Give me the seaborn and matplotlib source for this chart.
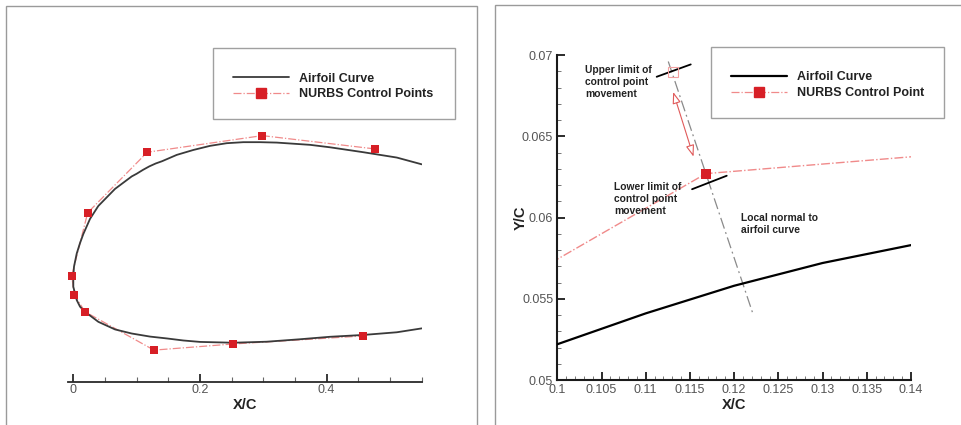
import numpy as np
import pandas as pd
import matplotlib
matplotlib.use('Agg')
import matplotlib.pyplot as plt
import seaborn as sns
from matplotlib.lines import Line2D
from matplotlib.patches import Rectangle, FancyArrowPatch
from matplotlib.ticker import MultipleLocator, FuncFormatter

# ---------------- data ----------------
# airfoil curve: upper surface from x=0.55 to leading edge, then lower surface
airfoil_x = [0.5501, 0.5107, 0.4579, 0.4053, 0.3738, 0.3212, 0.2948, 0.2684,
             0.2422, 0.2158, 0.1895, 0.1633, 0.14, 0.13, 0.12, 0.11, 0.10,
             0.0922, 0.0658, 0.0395, 0.0264, 0.0158, 0.0106, 0.0054, 0.0011, 0.0,
             0.0, 0.0054, 0.0106, 0.0185, 0.0395, 0.0658, 0.0922, 0.1211,
             0.1475, 0.1737, 0.2001, 0.2526, 0.3054, 0.3580, 0.4053, 0.4579,
             0.5107, 0.5501]
airfoil_y = [0.0568, 0.0601, 0.0627, 0.0651, 0.0663, 0.0674, 0.0676, 0.0676,
             0.0671, 0.0658, 0.0638, 0.0614, 0.0583, 0.0572, 0.0558, 0.0541, 0.0522,
             0.0509, 0.0448, 0.0365, 0.0302, 0.0228, 0.0184, 0.0133, 0.0069, 0.0020,
             -0.0029, -0.0094, -0.0126, -0.0151, -0.0200, -0.0237, -0.0257, -0.0272,
             -0.0281, -0.0291, -0.0298, -0.0302, -0.0297, -0.0285, -0.0273, -0.0264,
             -0.0251, -0.0232]

# NURBS control points (upper side -> leading edge -> lower side)
ctrl_x = [0.4764, 0.2984, 0.1168, 0.0227, -0.0025, 0.0016, 0.0185, 0.1274, 0.2526, 0.4570]
ctrl_y = [0.0643, 0.0708, 0.0627, 0.0332, 0.0025, -0.0069, -0.0151, -0.0338, -0.0308, -0.0269]

# annotation geometry in the zoomed panel (data coordinates)
normal_x = [0.11255, 0.12217]
normal_y = [0.0696, 0.0540]
upper_limit_x = [0.11124, 0.11509]
upper_limit_y = [0.06866, 0.06942]
lower_limit_x = [0.11524, 0.11916]
lower_limit_y = [0.06174, 0.06257]
upper_pt = (0.11305, 0.06897)
arrow_start = (0.11301, 0.06789)
arrow_end = (0.11550, 0.06358)

left_xticks = [0, 0.2, 0.4]
right_xticks = [0.1, 0.105, 0.11, 0.115, 0.12, 0.125, 0.13, 0.135, 0.14]
right_yticks = [0.05, 0.055, 0.06, 0.065, 0.07]

# ---------------- style ----------------
sns.set_theme(style='white')
plt.rcParams['font.family'] = ['Liberation Sans', 'DejaVu Sans']

RED = '#d71f26'
PINK = '#f08a8a'
TICKC = '#555555'

airfoil_df = pd.DataFrame({'x': airfoil_x, 'y': airfoil_y})
ctrl_df = pd.DataFrame({'x': ctrl_x, 'y': ctrl_y})

fig = plt.figure(figsize=(9.61, 4.25), dpi=100)
axL = fig.add_axes([68.3 / 961, 1 - 381.7 / 425, 353.4 / 961, 351.7 / 425])
axR = fig.add_axes([557.3 / 961, 1 - 380 / 425, 353.7 / 961, 325 / 425])

# panel frames
fig.add_artist(Rectangle((6 / 961, -0.05), 471 / 961, 1.05 - 6 / 425,
                         transform=fig.transFigure, fill=False, ec='#9a9a9a', lw=1.0))
fig.add_artist(Rectangle((495 / 961, -0.05), 0.6, 1.05 - 5 / 425,
                         transform=fig.transFigure, fill=False, ec='#9a9a9a', lw=1.0))

fmt = FuncFormatter(lambda v, _: f'{v:g}')

# ---------------- left panel ----------------
sns.lineplot(data=ctrl_df, x='x', y='y', sort=False, estimator=None, ax=axL,
             color=PINK, lw=0.9, linestyle='-.', zorder=2)
sns.lineplot(data=airfoil_df, x='x', y='y', sort=False, estimator=None, ax=axL,
             color='#3a3a3a', lw=1.3, zorder=3)
sns.scatterplot(data=ctrl_df, x='x', y='y', ax=axL, marker='s', s=40,
                color=RED, edgecolor=RED, linewidth=0, zorder=4)

axL.set_xlim(-0.0079, 0.55)
axL.set_ylim(-0.0492, 0.1223)
for s in ['left', 'top', 'right']:
    axL.spines[s].set_visible(False)
axL.spines['bottom'].set_color('#2a2a2a')
axL.spines['bottom'].set_linewidth(1.3)
axL.set_yticks([])
axL.set_xticks(left_xticks)
axL.xaxis.set_minor_locator(MultipleLocator(0.05))
axL.xaxis.set_major_formatter(fmt)
axL.tick_params(axis='x', which='major', direction='in', length=6, width=1.3,
                color='#2a2a2a', labelsize=9, labelcolor=TICKC, pad=2, bottom=True)
axL.tick_params(axis='x', which='minor', direction='in', length=3.5, width=0.8,
                color='#666666', bottom=True)
axL.set_xlabel('X/C', fontsize=10.5, fontweight='bold', color='#222222', labelpad=1)
axL.set_ylabel('')

LEG_KW = dict(loc='upper left', frameon=False, prop={'weight': 'bold', 'size': 9},
              handlelength=4.45, handletextpad=0.85, labelspacing=0.28, borderpad=0,
              numpoints=1, borderaxespad=0)

# left legend
fig.add_artist(Rectangle((213.3 / 961, 1 - 119.3 / 425), 241.7 / 961, 71.6 / 425,
                         transform=fig.transFigure, fill=False, ec='#a0a0a0', lw=1.0))
hL = [Line2D([], [], color='#3a3a3a', lw=1.3),
      Line2D([], [], color=PINK, lw=0.9, ls='-.', marker='s', ms=6.5,
             mfc=RED, mec=RED)]
legL = fig.legend(hL, ['Airfoil Curve', 'NURBS Control Points'],
                  bbox_to_anchor=(233 / 961, 1 - 72.5 / 425), **LEG_KW)
for t in legL.get_texts():
    t.set_color('#222222')

# ---------------- right panel ----------------
sns.lineplot(data=ctrl_df, x='x', y='y', sort=False, estimator=None, ax=axR,
             color=PINK, lw=1.0, linestyle='-.', zorder=2)
sns.lineplot(data=airfoil_df, x='x', y='y', sort=False, estimator=None, ax=axR,
             color='black', lw=1.6, zorder=3)
axR.plot(normal_x, normal_y, color='#8a8a8a', lw=0.9, ls=(0, (9, 3, 1.5, 3)), zorder=2)
axR.plot(upper_limit_x, upper_limit_y, color='black', lw=1.3, zorder=3)
axR.plot(lower_limit_x, lower_limit_y, color='black', lw=1.3, zorder=3)
axR.plot([upper_pt[0]], [upper_pt[1]], marker='s', ms=6.5, mfc='none',
         mec='#f3a0a0', mew=0.8, zorder=4)
sns.scatterplot(data=ctrl_df, x='x', y='y', ax=axR, marker='s', s=42,
                color=RED, edgecolor=RED, linewidth=0, zorder=5)
axR.add_patch(FancyArrowPatch(arrow_start, arrow_end,
                              arrowstyle='<|-|>,head_length=7,head_width=2.5',
                              mutation_scale=1, fc='white', ec='#e05a5a', lw=0.8, zorder=4))

axR.set_xlim(0.1, 0.14)
axR.set_ylim(0.05, 0.07)
for s in ['top', 'right']:
    axR.spines[s].set_visible(False)
for s in ['left', 'bottom']:
    axR.spines[s].set_color('#1a1a1a')
    axR.spines[s].set_linewidth(1.5)
axR.set_xticks(right_xticks)
axR.set_yticks(right_yticks)
axR.xaxis.set_minor_locator(MultipleLocator(0.001))
axR.yaxis.set_minor_locator(MultipleLocator(0.001))
axR.xaxis.set_major_formatter(fmt)
axR.yaxis.set_major_formatter(fmt)
axR.tick_params(which='major', direction='in', length=6, width=1.3, color='#1a1a1a',
                labelsize=9, labelcolor=TICKC, pad=3, bottom=True, left=True)
axR.tick_params(which='minor', direction='in', length=3, width=0.7, color='#777777',
                bottom=True, left=True)
axR.set_xlabel('X/C', fontsize=10.5, fontweight='bold', color='#222222', labelpad=1)
axR.set_ylabel('Y/C', fontsize=10.5, fontweight='bold', color='#222222', labelpad=-4)

note_kw = dict(fontsize=7.4, fontweight='bold', color='#222222', va='top', ha='left',
               linespacing=1.28, zorder=6)
axR.text(0.10316, 0.0694, 'Upper limit of\ncontrol point\nmovement', **note_kw)
axR.text(0.10641, 0.0622, 'Lower limit of\ncontrol point\nmovement', **note_kw)
axR.text(0.12077, 0.0603, 'Local normal to\nairfoil curve', **note_kw)

# right legend
fig.add_artist(Rectangle((710.7 / 961, 1 - 118.3 / 425), 233.3 / 961, 71 / 425,
                         transform=fig.transFigure, fill=False, ec='#a0a0a0', lw=1.0))
hR = [Line2D([], [], color='black', lw=1.6),
      Line2D([], [], color=PINK, lw=0.9, ls='-.', marker='s', ms=6.5,
             mfc=RED, mec=RED)]
legR = fig.legend(hR, ['Airfoil Curve', 'NURBS Control Point'],
                  bbox_to_anchor=(731 / 961, 1 - 71.5 / 425), **LEG_KW)
for t in legR.get_texts():
    t.set_color('#222222')

fig.savefig('out.png', dpi=100)
